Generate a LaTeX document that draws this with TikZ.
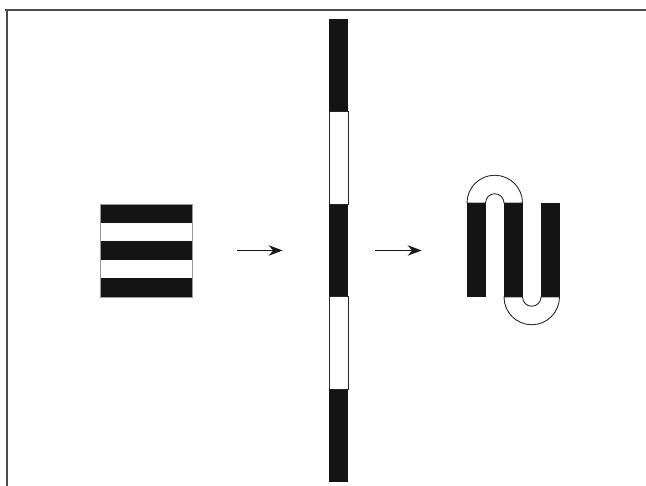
\documentclass[tikz,border=0pt]{standalone}
\usepackage{tikz}
\usetikzlibrary{arrows.meta,fit}

\begin{document}
\begin{tikzpicture}[
  x=0.02cm, y=0.02cm,
  frame/.style={draw=black!70, line width=0.8pt},
  ink/.style={fill=black!92},
  outline/.style={draw=black!85, line width=0.5pt},
  hold/.style={inner sep=0pt},
  arrow/.style={-{Stealth[length=2.8mm, width=2.1mm]}, line width=1pt, black!90}
]
\useasboundingbox (0,0) rectangle (646,486);
% frame
\draw[frame] (5,476) -- (646,476);
\draw[frame] (7,476) -- (7,0);
% striped square
\foreach \i in {0,2,4}
  \fill[ink] (100,{282-\i*18.6}) rectangle (192,{282-(\i+1)*18.6});
\draw[draw=black!40, line width=0.3pt] (100,189) rectangle (192,282);
\node[hold, fit={(100,189) (192,282)}] (stack) {};
% stretched bar
\foreach \i in {0,2,4}
  \fill[ink] (329,{467-\i*92.6}) rectangle (348,{467-(\i+1)*92.6});
\foreach \i in {1,3}
  \draw[outline] (329,{467-\i*92.6}) rectangle (348,{467-(\i+1)*92.6});
\node[hold, fit={(329,4) (348,467)}] (bar) {};
% folded bar
\foreach \x in {467,504,541}
  \fill[ink] (\x,189) rectangle (\x+18.5,283);
\draw[outline] (467,283) arc[start angle=180, end angle=0, radius=27.75]
  -- (504,283) arc[start angle=0, end angle=180, radius=9.25] -- cycle;
\draw[outline] (504,189) arc[start angle=180, end angle=360, radius=27.75]
  -- (541,189) arc[start angle=360, end angle=180, radius=9.25] -- cycle;
\node[hold, fit={(467,161.25) (559.5,310.75)}] (fold) {};
% arrows
\draw[arrow, shorten <=0.9cm, shorten >=0.92cm] (stack.east) -- (bar.west);
\draw[arrow, shorten <=0.54cm, shorten >=0.9cm] (bar.east) -- (bar.east -| fold.west);
\end{tikzpicture}
\end{document}
